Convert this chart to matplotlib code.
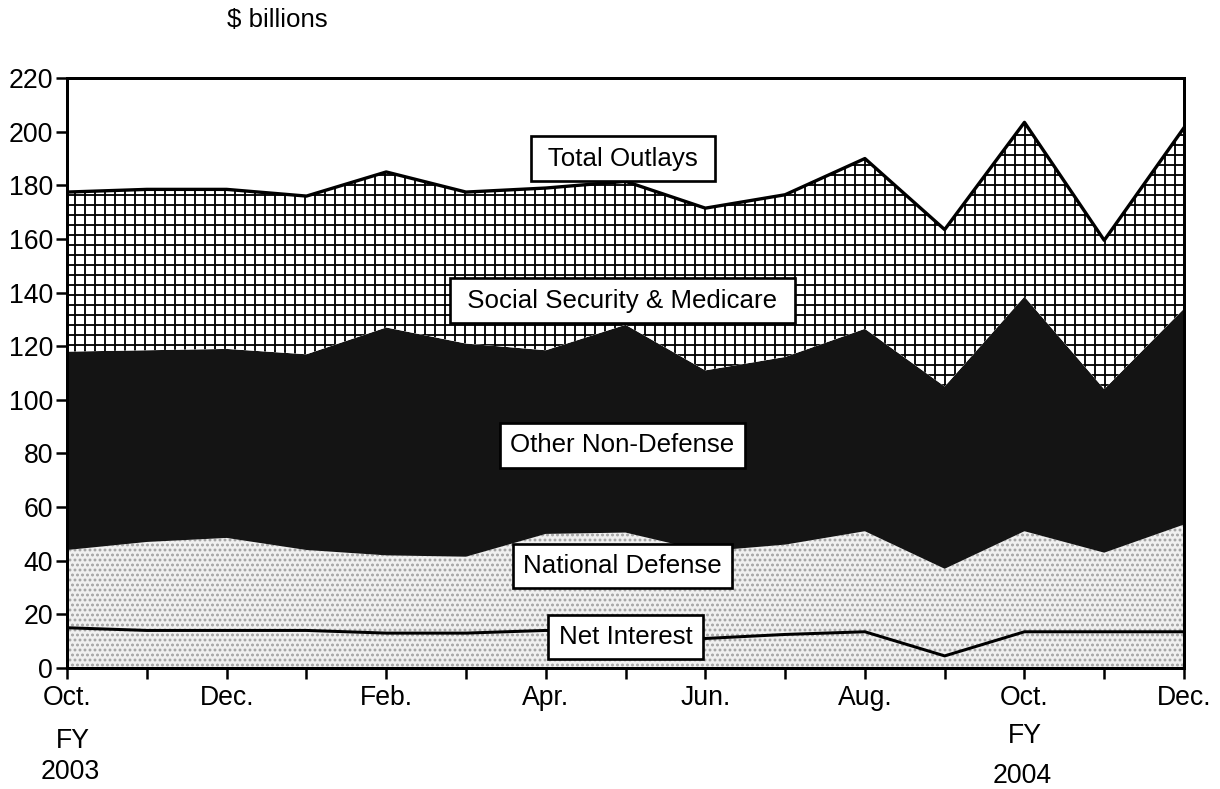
import matplotlib
matplotlib.use("Agg")
import matplotlib.pyplot as plt
import numpy as np

plt.rcParams['font.family'] = ['Liberation Sans', 'DejaVu Sans']
plt.rcParams['hatch.linewidth'] = 1.1

# --- Data ($ billions), Oct. FY2003 through Dec. FY2004 ---
months = ["Oct.", "Nov.", "Dec.", "Jan.", "Feb.", "Mar.", "Apr.", "May",
          "Jun.", "Jul.", "Aug.", "Sep.", "Oct.", "Nov.", "Dec."]
net_interest = [15, 14, 14, 14, 13, 13, 14, 12.5, 11, 12.5, 13.5, 4.5, 13.5, 13.5, 13.5]
national_defense = [29, 33, 34.5, 30, 29, 28.5, 36, 38, 32.5, 33.5, 37.5, 32.5, 37.5, 29.5, 40]
other_non_defense = [74, 71.5, 70.5, 73, 85, 79.5, 68.5, 77.5, 67.5, 70, 75.5, 68, 87.5, 61, 80.5]
soc_sec_medicare = [59.5, 60, 59.5, 59, 58, 56.5, 60.5, 53.5, 60.5, 60.5, 63.5, 58.5, 65, 55.5, 67.5]

x = np.arange(len(months))
lvl1 = np.array(net_interest)
lvl2 = lvl1 + np.array(national_defense)
lvl3 = lvl2 + np.array(other_non_defense)
total = lvl3 + np.array(soc_sec_medicare)

fig = plt.figure(figsize=(1220 / 120, 789 / 120))
ax = fig.add_axes([0.055, 0.1534, 0.9155, 0.7476])

# --- Layers ---
ax.fill_between(x, 0, lvl2, facecolor="#f0f0f0", edgecolor="#a0a0a0",
                hatch="....", linewidth=0, zorder=1)
ax.fill_between(x, lvl2, lvl3, facecolor="#141414", linewidth=0, zorder=1)
ax.fill_between(x, lvl3, total, facecolor="white", edgecolor="black",
                hatch="++", linewidth=0, zorder=1)

ax.plot(x, total, color="black", lw=2, zorder=3)
ax.plot(x, lvl1, color="black", lw=1.8, zorder=3)

# --- Axes ---
ax.set_xlim(0, len(months) - 1)
ax.set_ylim(0, 220)
ax.set_yticks(range(0, 221, 20))
ax.set_xticks(x)
ax.set_xticklabels([m if i % 2 == 0 else "" for i, m in enumerate(months)])
ax.tick_params(axis="both", direction="out", length=6.5, width=1.5,
               labelsize=16, pad=2)
ax.tick_params(axis="x", pad=4)
for s in ax.spines.values():
    s.set_linewidth(1.8)

# --- Box labels ---
box = dict(boxstyle="square,pad=0.4", facecolor="white", edgecolor="black", linewidth=1.6)
labels = [(" Total Outlays ", 6.97, 190), (" Social Security & Medicare ", 6.96, 137),
          ("Other Non-Defense", 6.96, 83), ("National Defense", 6.96, 38),
          ("Net Interest", 7.0, 11.5)]
for txt, lx, ly in labels:
    ax.text(lx, ly, txt, ha="center", va="center", fontsize=15.5, bbox=box, zorder=5)

fig.text(277 / 1220, 1 - 20 / 789, "$ billions", ha="center", va="center", fontsize=15.5)
fig.text(73 / 1220, 1 - 741 / 789, "FY", ha="center", va="center", fontsize=16)
fig.text(70 / 1220, 1 - 772 / 789, "2003", ha="center", va="center", fontsize=16)
fig.text(1025 / 1220, 1 - 736 / 789, "FY", ha="center", va="center", fontsize=16)
fig.text(1022 / 1220, 1 - 776 / 789, "2004", ha="center", va="center", fontsize=16)

fig.savefig("out.png", dpi=120)
